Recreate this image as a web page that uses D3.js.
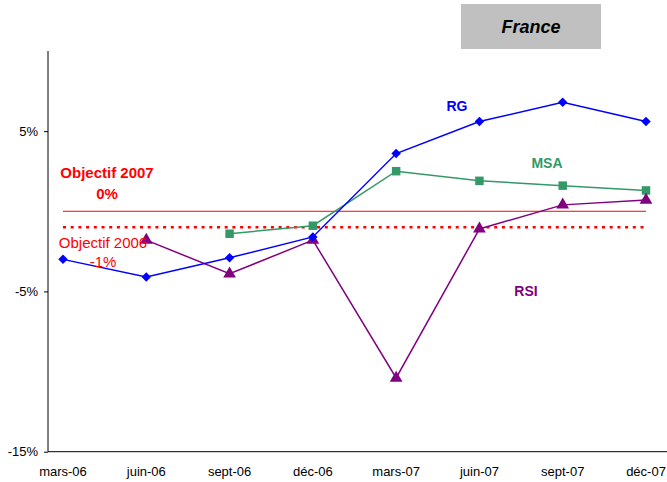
<!DOCTYPE html>
<html><head><meta charset="utf-8">
<script src="https://cdn.jsdelivr.net/npm/d3@7"></script>
<style>body{margin:0;background:#fff;}svg{display:block;font-family:Arial,"Liberation Sans",sans-serif;}</style>
</head><body><svg id="c" width="667" height="482"></svg>
<script>
const categories = ["mars-06","juin-06","sept-06","déc-06","mars-07","juin-07","sept-07","déc-07"];
const rg  = [-3.0, -4.1, -2.9, -1.6, 3.6, 5.6, 6.8, 5.6];
const msa = [null, null, -1.4, -0.9, 2.5, 1.9, 1.6, 1.3];
const rsi = [null, -1.8, -3.9, -1.8, -10.4, -1.1, 0.4, 0.7];
const objectif2007 = 0;
const objectif2006 = -1;
const yTicks = [-15, -5, 5];
const yDomain = [-15, 10];

const svg = d3.select("#c");
const x = d3.scalePoint().domain(categories).range([63, 646]);
const y = d3.scaleLinear().domain(yDomain).range([451.7, 51]);

// title box
svg.append("rect").attr("x",461).attr("y",4).attr("width",140).attr("height",45).attr("fill","#c0c0c0");
svg.append("text").attr("x",531).attr("y",33).attr("text-anchor","middle")
  .attr("font-size",18).attr("font-weight","bold").attr("font-style","italic").attr("fill","#000").text("France");

// axes
const yAxis = d3.axisLeft(y).tickValues(yTicks).tickSize(4).tickFormat(d=>d+"%");
const gy = svg.append("g").attr("transform","translate(48,0)").call(yAxis);
gy.select(".domain").attr("stroke","#000").attr("d", `M-0,${y(yDomain[1])}V${y(yDomain[0])}`);
gy.selectAll(".tick line").attr("stroke","#000");
gy.selectAll(".tick text").attr("font-size",13).attr("fill","#000").attr("font-family","Arial, 'Liberation Sans', sans-serif").attr("x",-10);

svg.append("line").attr("x1",48).attr("x2",667).attr("y1",y(-15)).attr("y2",y(-15)).attr("stroke","#000");
svg.append("g").selectAll("text").data(categories).join("text")
  .attr("x",d=>x(d)).attr("y",476).attr("text-anchor","middle").attr("font-size",13).attr("fill","#000").text(d=>d);

// objective lines
svg.append("line").attr("x1",x(categories[0])).attr("x2",x(categories[7])).attr("y1",y(objectif2007)).attr("y2",y(objectif2007))
  .attr("stroke","#ff0000").attr("stroke-width",1);
svg.append("line").attr("x1",x(categories[0])).attr("x2",x(categories[7])).attr("y1",y(objectif2006)).attr("y2",y(objectif2006))
  .attr("stroke","#ff0000").attr("stroke-width",2.5).attr("stroke-dasharray","3,4.7");

function series(data, color, symbol, size, rot){
  const pts = data.map((v,i)=>({c:categories[i],v})).filter(d=>d.v!==null);
  const line = d3.line().x(d=>x(d.c)).y(d=>y(d.v));
  svg.append("path").datum(pts).attr("d",line).attr("fill","none").attr("stroke",color).attr("stroke-width",1.5);
  svg.append("g").selectAll("path").data(pts).join("path")
    .attr("transform",d=>`translate(${x(d.c)},${y(d.v)}) rotate(${rot})`)
    .attr("d",d3.symbol().type(symbol).size(size)).attr("fill",color);
}
series(msa, "#339966", d3.symbolSquare, 72, 0);
series(rsi, "#800080", d3.symbolTriangle, 70, 0);
series(rg, "#0000ff", d3.symbolSquare, 45, 45);

// labels
svg.append("text").attr("x",457).attr("y",111).attr("text-anchor","middle").attr("font-size",14).attr("font-weight","bold").attr("fill","#0000ff").text("RG");
svg.append("text").attr("x",547).attr("y",168).attr("text-anchor","middle").attr("font-size",14).attr("font-weight","bold").attr("fill","#339966").text("MSA");
svg.append("text").attr("x",526).attr("y",296).attr("text-anchor","middle").attr("font-size",14).attr("font-weight","bold").attr("fill","#800080").text("RSI");
svg.append("text").attr("x",107).attr("y",178).attr("text-anchor","middle").attr("font-size",15).attr("font-weight","bold").attr("fill","#ff0000").text("Objectif 2007");
svg.append("text").attr("x",107).attr("y",199).attr("text-anchor","middle").attr("font-size",15).attr("font-weight","bold").attr("fill","#ff0000").text("0%");
svg.append("text").attr("x",103).attr("y",248).attr("text-anchor","middle").attr("font-size",15).attr("fill","#ff0000").text("Objectif 2006");
svg.append("text").attr("x",103).attr("y",267).attr("text-anchor","middle").attr("font-size",15).attr("fill","#ff0000").text("-1%");
</script></body></html>
